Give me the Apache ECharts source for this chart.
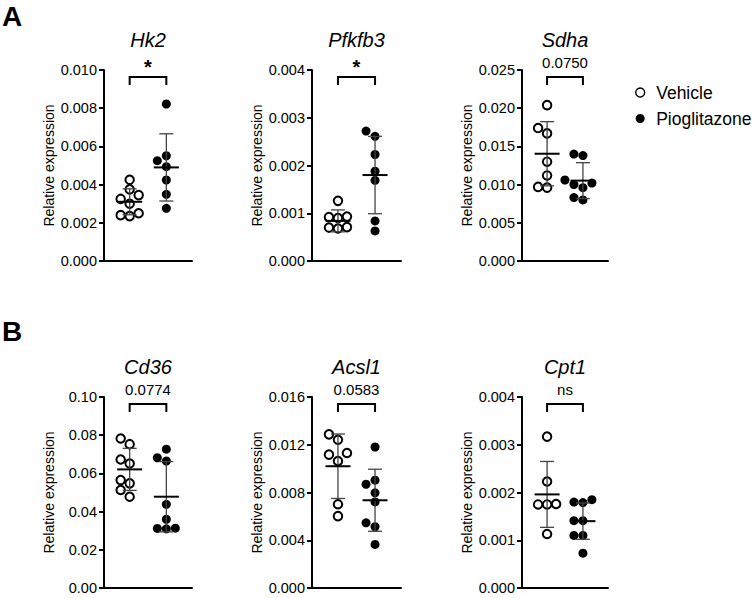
<!DOCTYPE html>
<html><head><meta charset="utf-8">
<script src="https://cdn.jsdelivr.net/npm/echarts@6/dist/echarts.min.js"></script>
<style>html,body{margin:0;padding:0;background:#fff}#c{width:755px;height:598px}</style>
</head><body><div id="c"></div>
<script>
// ---- data ----
const genes = ['Hk2', 'Pfkfb3', 'Sdha', 'Cd36', 'Acsl1', 'Cpt1'];
const groupNames = ['Vehicle', 'Pioglitazone'];
const pLabels = ['*', '*', '0.0750', '0.0774', '0.0583', 'ns'];

const hk2Vehicle = [0.00425, 0.00375, 0.00345, 0.00325, 0.00300, 0.00250, 0.00240, 0.00235];
const hk2Pioglitazone = [0.00822, 0.00551, 0.00525, 0.00494, 0.00424, 0.00349, 0.00276];
const pfkfb3Vehicle = [0.00126, 0.00093, 0.00090, 0.00092, 0.00071, 0.00068, 0.00070];
const pfkfb3Pioglitazone = [0.00272, 0.00261, 0.00223, 0.00188, 0.00169, 0.00084, 0.00063];
const sdhaVehicle = [0.0204, 0.0174, 0.0167, 0.0130, 0.0112, 0.0097, 0.0096];
const sdhaPioglitazone = [0.0140, 0.0138, 0.0106, 0.0102, 0.0100, 0.0096, 0.0083, 0.0080];
const cd36Vehicle = [0.0783, 0.0753, 0.0673, 0.0652, 0.0565, 0.0548, 0.0513, 0.0478];
const cd36Pioglitazone = [0.0727, 0.0682, 0.0665, 0.0438, 0.0360, 0.0313, 0.0310, 0.0312];
const acsl1Vehicle = [0.01287, 0.01242, 0.01131, 0.01117, 0.01064, 0.00702, 0.00602];
const acsl1Pioglitazone = [0.01181, 0.00903, 0.00869, 0.00797, 0.00721, 0.00546, 0.00513, 0.00365];
const cpt1Vehicle = [0.00317, 0.00223, 0.00176, 0.00175, 0.00175, 0.00113];
const cpt1Pioglitazone = [0.00185, 0.00180, 0.00179, 0.00141, 0.00141, 0.00110, 0.00110, 0.00073];

// mean and SD as drawn
const vehicleMean = [0.00310, 0.00084, 0.01404, 0.0621, 0.01020, 0.00196];
const vehicleSD = [0.00068, 0.00023, 0.0042, 0.0110, 0.0027, 0.00069];
const pioMean = [0.00490, 0.00180, 0.01052, 0.0478, 0.00735, 0.00140];
const pioSD = [0.00176, 0.00081, 0.00235, 0.0184, 0.0026, 0.00038];

// y axes
const yMax = [0.010, 0.004, 0.025, 0.10, 0.016, 0.004];
const yInterval = [0.002, 0.001, 0.005, 0.02, 0.004, 0.001];
const yDecimals = [3, 3, 3, 2, 3, 3];

// ---- layout ----
const vehicleData = [hk2Vehicle, pfkfb3Vehicle, sdhaVehicle, cd36Vehicle, acsl1Vehicle, cpt1Vehicle];
const pioData = [hk2Pioglitazone, pfkfb3Pioglitazone, sdhaPioglitazone, cd36Pioglitazone, acsl1Pioglitazone, cpt1Pioglitazone];
const FONT = '"Liberation Sans", Arial, sans-serif';
const gridLeft = [104, 312, 522];
const gridWidth = [88, 89, 86];
const gridTop = [70, 397];
const gridH = 191;
const X_MIN = -0.7, X_MAX = 1.7;

function swarm(vals, ymax, pw) {
  const pxY = gridH / ymax, pxX = pw / (X_MAX - X_MIN), d = 9;
  const idx = vals.map((v, i) => i).sort((a, b) => vals[a] - vals[b]);
  const placed = [], off = new Array(vals.length).fill(0);
  idx.forEach(i => {
    const y = vals[i] * pxY;
    for (const k of [0, -1, 1, -2, 2, -3, 3]) {
      const x = k * d;
      if (placed.every(p => Math.hypot(p[0] - x, p[1] - y) >= d * 0.97)) {
        placed.push([x, y]); off[i] = x / pxX; break;
      }
    }
  });
  return off;
}

const grids = [], xAxes = [], yAxes = [], series = [];
genes.forEach((g, i) => {
  const col = i % 3, row = Math.floor(i / 3);
  grids.push({left: gridLeft[col], top: gridTop[row], width: gridWidth[col], height: gridH});
  xAxes.push({type: 'value', gridIndex: i, min: X_MIN, max: X_MAX,
    axisLine: {onZero: false, lineStyle: {color: '#000', width: 2}},
    axisTick: {show: false}, axisLabel: {show: false}, splitLine: {show: false}});
  const dec = yDecimals[i];
  yAxes.push({type: 'value', gridIndex: i, min: 0, max: yMax[i], interval: yInterval[i],
    name: 'Relative expression', nameLocation: 'middle', nameGap: 48,
    nameTextStyle: {fontSize: 14, color: '#000', fontFamily: FONT},
    axisLine: {show: true, onZero: false, lineStyle: {color: '#000', width: 2}},
    axisTick: {show: true, length: 5, lineStyle: {color: '#000', width: 2}},
    axisLabel: {margin: 7, fontSize: 14.5, color: '#000', fontFamily: FONT,
      formatter: v => v.toFixed(dec)},
    splitLine: {show: false}});
  const vOff = swarm(vehicleData[i], yMax[i], gridWidth[col]);
  const pOff = swarm(pioData[i], yMax[i], gridWidth[col]);
  series.push({type: 'scatter', name: groupNames[0], xAxisIndex: i, yAxisIndex: i,
    data: vehicleData[i].map((v, j) => [0 + vOff[j], v]),
    symbol: 'circle', symbolSize: 8.5, z: 2,
    itemStyle: {color: '#fff', borderColor: '#000', borderWidth: 2, opacity: 1}});
  series.push({type: 'scatter', name: groupNames[1], xAxisIndex: i, yAxisIndex: i,
    data: pioData[i].map((v, j) => [1 + pOff[j], v]),
    symbol: 'circle', symbolSize: 9, z: 2,
    itemStyle: {color: '#000', opacity: 1}});
  series.push({type: 'custom', name: 'stats' + i, xAxisIndex: i, yAxisIndex: i, z: 5, silent: true, clip: false,
    data: [[0, vehicleMean[i], vehicleSD[i]], [1, pioMean[i], pioSD[i]]],
    renderItem: (params, api) => {
      const x = api.value(0), m = api.value(1), s = api.value(2);
      const pm = api.coord([x, m]), pt = api.coord([x, m + s]), pb = api.coord([x, m - s]);
      const es = {stroke: '#444', lineWidth: 1.3};
      return {type: 'group', children: [
        {type: 'line', shape: {x1: pt[0], y1: pt[1], x2: pb[0], y2: pb[1]}, style: es},
        {type: 'line', shape: {x1: pt[0] - 7, y1: pt[1], x2: pt[0] + 7, y2: pt[1]}, style: es},
        {type: 'line', shape: {x1: pb[0] - 7, y1: pb[1], x2: pb[0] + 7, y2: pb[1]}, style: es},
        {type: 'line', shape: {x1: pm[0] - 12.5, y1: pm[1], x2: pm[0] + 12.5, y2: pm[1]}, style: {stroke: '#000', lineWidth: 2}}
      ]};
    }});
  series.push({type: 'custom', name: 'bracket' + i, xAxisIndex: i, yAxisIndex: i, z: 5, silent: true, clip: false,
    data: [[0, 0]],
    renderItem: (params, api) => {
      const cs = params.coordSys;
      const x0 = api.coord([0, 0])[0], x1 = api.coord([1, 0])[0];
      const yb = cs.y + 7;
      const star = pLabels[i] === '*';
      return {type: 'group', children: [
        {type: 'polyline', shape: {points: [[x0, yb + 8], [x0, yb], [x1, yb], [x1, yb + 8]]},
          style: {stroke: '#000', lineWidth: 2, fill: null}},
        {type: 'text', x: (x0 + x1) / 2, y: star ? cs.y - 3 : cs.y - 8,
          style: {text: pLabels[i], fill: '#000', fontFamily: FONT,
            fontSize: star ? 20 : 15, fontWeight: star ? 'bold' : 'normal',
            align: 'center', verticalAlign: 'middle'}},
        {type: 'text', x: cs.x + cs.width / 2, y: cs.y - 30,
          style: {text: genes[i], fill: '#000', fontFamily: FONT, fontSize: 20, fontStyle: 'italic',
            align: 'center', verticalAlign: 'middle'}}
      ]};
    }});
});

const chart = echarts.init(document.getElementById('c'), null, {renderer: 'svg'});
chart.setOption({
  animation: false,
  backgroundColor: '#fff',
  textStyle: {fontFamily: FONT},
  grid: grids, xAxis: xAxes, yAxis: yAxes, series: series,
  legend: {orient: 'vertical', left: 635, top: 83.5, padding: 0, itemWidth: 22, itemHeight: 9, itemGap: 8,
    icon: 'circle', selectedMode: false,
    textStyle: {fontSize: 17.5, lineHeight: 17, color: '#000', fontFamily: FONT},
    data: [{name: 'Vehicle', itemStyle: {color: '#fff', borderColor: '#000', borderWidth: 1.4, opacity: 1}},
           {name: 'Pioglitazone', itemStyle: {color: '#000', borderWidth: 0, opacity: 1}}]},
  graphic: [
    {type: 'text', left: 2, top: 2, style: {text: 'A', fontSize: 28, fontWeight: 'bold', fill: '#000', fontFamily: FONT}},
    {type: 'text', left: 2, top: 317, style: {text: 'B', fontSize: 28, fontWeight: 'bold', fill: '#000', fontFamily: FONT}}
  ]
});
</script></body></html>
